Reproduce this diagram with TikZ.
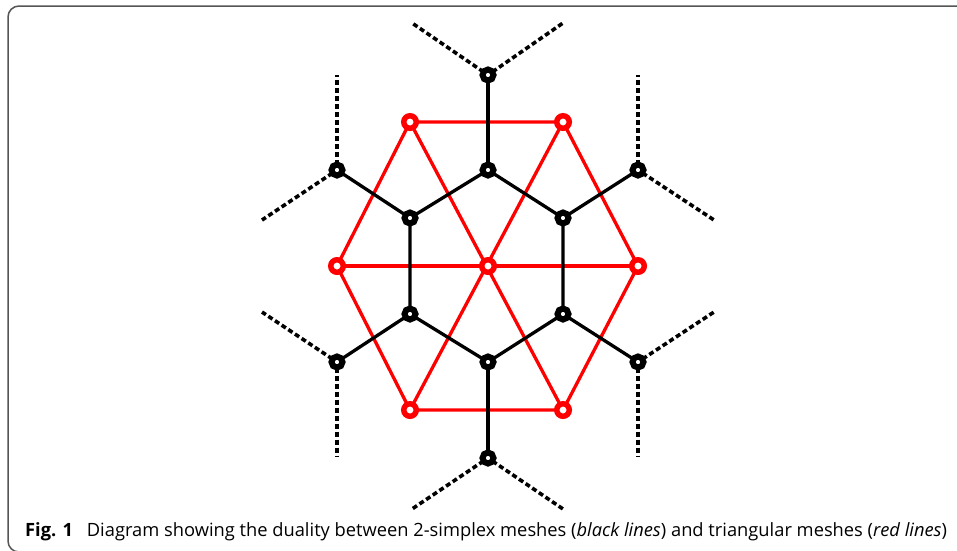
\documentclass[tikz,border=0pt]{standalone}
\usepackage{fontspec}
\setmainfont{Open Sans}
\usetikzlibrary{backgrounds}
\definecolor{meshred}{RGB}{255,0,0}
\definecolor{framegray}{RGB}{85,85,85}
\tikzset{
  vtx/.style={circle, draw=black, fill=white, line width=6pt, minimum size=11pt, inner sep=0pt, outer sep=0pt},
  rvtx/.style={vtx, draw=meshred, line width=5.5pt, minimum size=12.5pt},
  blackedge/.style={draw=black, line width=3.3pt},
  dualedge/.style={draw=meshred, line width=3.3pt},
  openedge/.style={draw=black, line width=3.6pt, dash pattern=on 5pt off 3pt},
}
\begin{document}
\begin{tikzpicture}[x=1pt, y=-1pt]
\useasboundingbox (0,0) rectangle (957,550);
\begin{scope}
  \clip (0,0) rectangle (957,550);
  \draw[framegray, line width=1.5pt, rounded corners=11pt] (8,6) rectangle (990,552);
\end{scope}

% triangular mesh vertices
\node[rvtx] (C)  at (488,266) {};
\node[rvtx] (L)  at (337,266) {};
\node[rvtx] (R)  at (638,266) {};
\node[rvtx] (TL) at (410,122) {};
\node[rvtx] (TR) at (563,122) {};
\node[rvtx] (BL) at (410,410) {};
\node[rvtx] (BR) at (563,410) {};

% 2-simplex mesh vertices (inner ring)
\node[vtx] (b1) at (488,170) {};
\node[vtx] (b2) at (563,218) {};
\node[vtx] (b3) at (563,314) {};
\node[vtx] (b4) at (488,362) {};
\node[vtx] (b5) at (410,314) {};
\node[vtx] (b6) at (410,218) {};

% 2-simplex mesh vertices (outer ring)
\node[vtx] (o1) at (488,75)  {};
\node[vtx] (o2) at (638,170) {};
\node[vtx] (o3) at (638,362) {};
\node[vtx] (o4) at (488,458) {};
\node[vtx] (o5) at (337,362) {};
\node[vtx] (o6) at (337,170) {};

% open ends of the 2-simplex mesh
\coordinate (e1a) at (412,23);  \coordinate (e1b) at (563,23);
\coordinate (e2a) at (638,75);  \coordinate (e2b) at (714,220);
\coordinate (e3a) at (714,312); \coordinate (e3b) at (638,456);
\coordinate (e4a) at (563,509); \coordinate (e4b) at (412,509);
\coordinate (e5a) at (337,456); \coordinate (e5b) at (262,312);
\coordinate (e6a) at (262,220); \coordinate (e6b) at (337,75);

\begin{pgfonlayer}{background}
  % triangular mesh
  \draw[dualedge] (L) -- (TL) -- (TR) -- (R) -- (BR) -- (BL) -- (L);
  \draw[dualedge] (L) -- (R);
  \draw[dualedge] (TL) -- (BR);
  \draw[dualedge] (TR) -- (BL);
  % 2-simplex mesh
  \draw[blackedge] (b1) -- (b2) -- (b3) -- (b4) -- (b5) -- (b6) -- (b1);
  \draw[blackedge] (b1) -- (o1);
  \draw[blackedge] (b2) -- (o2);
  \draw[blackedge] (b3) -- (o3);
  \draw[blackedge] (b4) -- (o4);
  \draw[blackedge] (b5) -- (o5);
  \draw[blackedge] (b6) -- (o6);
  \draw[openedge] (o1) -- (e1a);  \draw[openedge] (o1) -- (e1b);
  \draw[openedge] (o2) -- (e2a);  \draw[openedge] (o2) -- (e2b);
  \draw[openedge] (o3) -- (e3a);  \draw[openedge] (o3) -- (e3b);
  \draw[openedge] (o4) -- (e4a);  \draw[openedge] (o4) -- (e4b);
  \draw[openedge] (o5) -- (e5a);  \draw[openedge] (o5) -- (e5b);
  \draw[openedge] (o6) -- (e6a);  \draw[openedge] (o6) -- (e6b);
\end{pgfonlayer}

\node[anchor=base west, inner sep=0pt, font=\fontsize{18.3}{22}\selectfont] (cap) at (25,536.5)
  {\textbf{Fig. 1}\hspace{0.75em}Diagram showing the duality between 2-simplex meshes (\textit{black lines}) and triangular meshes (\textit{red lines})};
\end{tikzpicture}
\end{document}
